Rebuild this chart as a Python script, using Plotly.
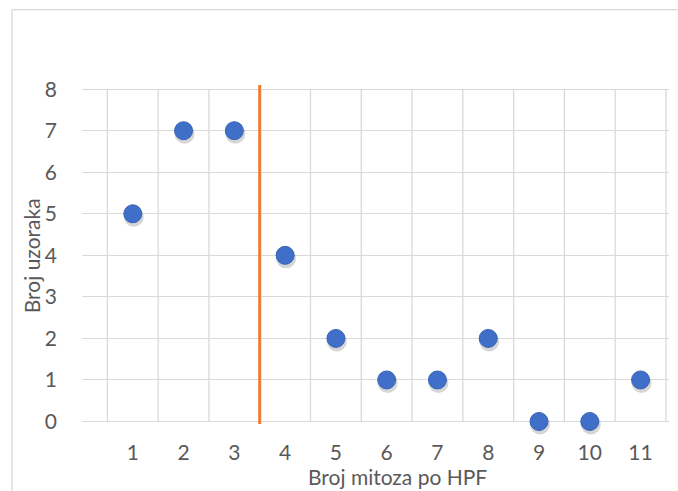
import plotly.graph_objects as go

# Data
mitoses = [1, 2, 3, 4, 5, 6, 7, 8, 9, 10, 11]
samples = [5, 7, 7, 4, 2, 1, 1, 2, 0, 0, 1]
threshold = 3.5
x_title = "Broj mitoza po HPF"
y_title = "Broj uzoraka"
x_range = [0, 11.56]
y_range = [-0.06, 8.1]
y_ticks = list(range(0, 9))

W, H = 678, 491
L, R = 82, 669          # base plot area (px)
T, B = 85.35, 424.2
SX, SY = 1.0, 3.0       # shadow offset (px)
pw, ph = R - L, B - T
full_w, full_h = pw + SX, ph + SY
dx, dy = SX / full_w, SY / full_h

def px2paper_x(px):
    return (px - L) / full_w

def px2paper_y(py):
    return (B + SY - py) / full_h

font_family = "Lato, 'Open Sans', sans-serif"
fs = 21
grid_col = "#D9D9D9"
text_col = "#595959"

fig = go.Figure()

# threshold line (base axes)
fig.add_trace(go.Scatter(
    x=[threshold, threshold], y=[-0.06, 8.1], mode="lines",
    line=dict(color="#ED7D31", width=3), hoverinfo="skip", showlegend=False,
    xaxis="x", yaxis="y",
))
# marker shadow
fig.add_trace(go.Scatter(
    x=mitoses, y=samples, mode="markers",
    marker=dict(size=20, color="rgba(0,0,0,0.16)", line=dict(width=0)),
    cliponaxis=False, showlegend=False, hoverinfo="skip",
    xaxis="x2", yaxis="y2",
))
# markers
fig.add_trace(go.Scatter(
    x=mitoses, y=samples, mode="markers",
    marker=dict(size=18, color="#3F6FC8", line=dict(color="#3863B4", width=1)),
    cliponaxis=False, showlegend=False,
    xaxis="x3", yaxis="y3",
))

shapes = []
for i in range(len(mitoses) + 1):
    shapes.append(dict(type="line", xref="x", yref="y", x0=i + 0.5, x1=i + 0.5,
                       y0=0, y1=8, line=dict(color=grid_col, width=1.3), layer="below"))
shapes.append(dict(type="line", xref="paper", yref="paper",
                   x0=px2paper_x(12), x1=px2paper_x(W + 5), y0=px2paper_y(10), y1=px2paper_y(10),
                   line=dict(color=grid_col, width=1.3)))
shapes.append(dict(type="line", xref="paper", yref="paper",
                   x0=px2paper_x(12), x1=px2paper_x(12), y0=px2paper_y(10), y1=px2paper_y(H + 5),
                   line=dict(color=grid_col, width=1.3)))

hidden = dict(visible=False, fixedrange=True)

fig.update_layout(
    width=W, height=H,
    margin=dict(l=L, r=W - R - SX, t=T, b=H - B - SY, pad=0),
    paper_bgcolor="white", plot_bgcolor="rgba(0,0,0,0)",
    font=dict(family=font_family, size=fs, color=text_col),
    shapes=shapes,
    xaxis=dict(domain=[0, 1 - dx], anchor="y", range=x_range, tickvals=mitoses,
               showgrid=False, zeroline=False, showline=False, ticks="",
               ticklabelstandoff=14, tickfont=dict(size=fs, color=text_col)),
    yaxis=dict(domain=[dy, 1], anchor="x", range=y_range, tickvals=y_ticks, showgrid=True,
               gridcolor=grid_col, gridwidth=1.3, zeroline=False, showline=False,
               ticks="", ticklabelstandoff=24, tickfont=dict(size=fs, color=text_col)),
    xaxis2=dict(domain=[dx, 1], anchor="y2", range=x_range, **hidden),
    yaxis2=dict(domain=[0, 1 - dy], anchor="x2", range=y_range, **hidden),
    xaxis3=dict(domain=[0, 1 - dx], anchor="y3", range=x_range, **hidden),
    yaxis3=dict(domain=[dy, 1], anchor="x3", range=y_range, **hidden),
    annotations=[
        dict(text=x_title, xref="paper", yref="paper", x=px2paper_x(397.5), y=px2paper_y(477),
             showarrow=False, font=dict(size=fs, color=text_col), xanchor="center", yanchor="middle"),
        dict(text=y_title, xref="paper", yref="paper", x=px2paper_x(31.5), y=px2paper_y(256),
             showarrow=False, textangle=-90, font=dict(size=fs, color=text_col),
             xanchor="center", yanchor="middle"),
    ],
)

fig.write_html("out.html", config={"displayModeBar": False},
               post_script="document.body.style.margin='0';")
